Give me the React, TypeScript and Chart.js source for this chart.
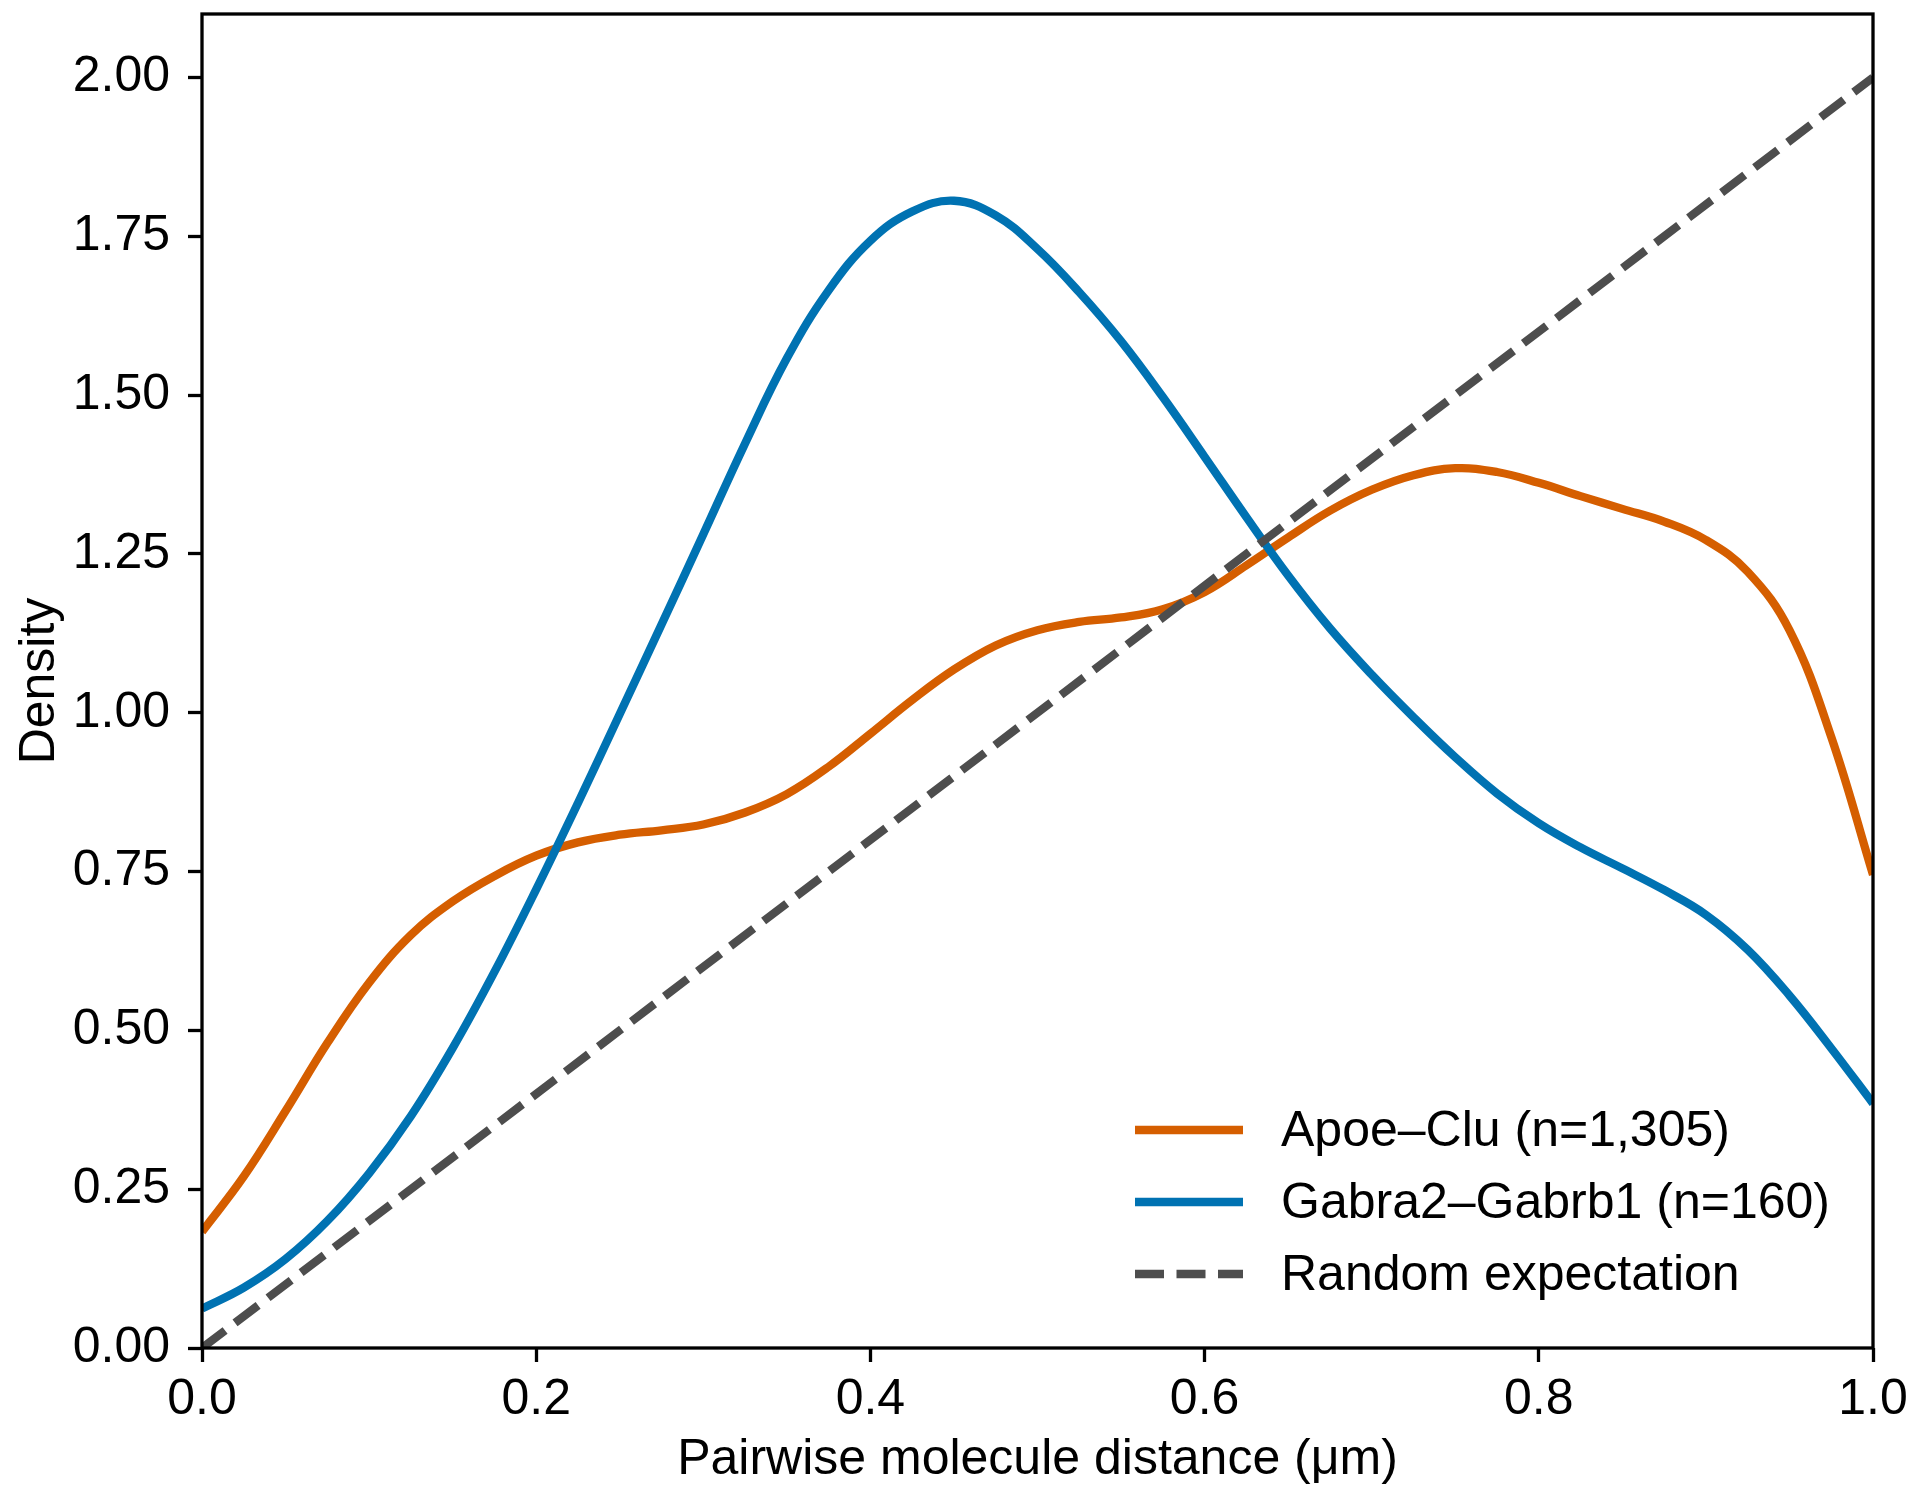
import React, { useEffect, useRef } from 'react';
import { Chart, registerables } from 'chart.js';

Chart.register(...registerables);

// distance grid (µm) and the two density curves
const distances = [
  0, 0.025, 0.05, 0.075, 0.1, 0.125, 0.15, 0.175, 0.2, 0.225, 0.25, 0.275, 0.3, 0.325, 0.35, 0.375, 0.4, 0.425, 0.45, 0.475,
  0.5, 0.525, 0.55, 0.575, 0.6, 0.625, 0.65, 0.675, 0.7, 0.725, 0.75, 0.775, 0.8, 0.825, 0.85, 0.875, 0.9, 0.925, 0.95, 0.975, 1.0,
];
const apoeClu = [
  0.183, 0.27, 0.373, 0.48, 0.575, 0.65, 0.703, 0.743, 0.775, 0.796, 0.808, 0.815, 0.824, 0.843, 0.872, 0.915, 0.967, 1.02, 1.068, 1.106,
  1.13, 1.143, 1.15, 1.163, 1.19, 1.232, 1.276, 1.318, 1.351, 1.374, 1.385, 1.379, 1.362, 1.341, 1.321, 1.301, 1.272, 1.222, 1.13, 0.962, 0.745,
];
const gabra2Gabrb1 = [
  0.062, 0.095, 0.14, 0.2, 0.275, 0.365, 0.472, 0.592, 0.722, 0.858, 0.998, 1.139, 1.281, 1.424, 1.558, 1.665, 1.743, 1.789, 1.806, 1.783,
  1.73, 1.662, 1.585, 1.497, 1.403, 1.308, 1.216, 1.133, 1.06, 0.993, 0.93, 0.873, 0.826, 0.788, 0.755, 0.721, 0.682, 0.627, 0.555, 0.472, 0.385,
];
const randomX = [0, 1];
const randomY = [0, 2];

const seriesLabels = ['Apoe\u2013Clu (n=1,305)', 'Gabra2\u2013Gabrb1 (n=160)', 'Random expectation'];
const xTicks = [0, 0.2, 0.4, 0.6, 0.8, 1.0];
const yTicks = [0, 0.25, 0.5, 0.75, 1.0, 1.25, 1.5, 1.75, 2.0];

const FONT = '"Liberation Sans", Arial, sans-serif';
const ORANGE = '#D55E00';
const BLUE = '#0072B2';
const GREY = '#4D4D4D';

const toPoints = (xs: number[], ys: number[]) => xs.map((x, i) => ({ x, y: ys[i] }));

// box around the plot area, like matplotlib spines
const framePlugin = {
  id: 'frame',
  afterDraw(chart: any) {
    const { ctx, chartArea } = chart;
    ctx.save();
    ctx.strokeStyle = '#000';
    ctx.lineWidth = 3.3;
    ctx.strokeRect(chartArea.left, chartArea.top, chartArea.right - chartArea.left, chartArea.bottom - chartArea.top);
    ctx.restore();
  },
};

// legend drawn inside the axes, lower right
const legendPlugin = {
  id: 'insideLegend',
  afterDatasetsDraw(chart: any) {
    const { ctx, chartArea } = chart;
    const x0 = chartArea.right - 738;
    const y0 = chartArea.bottom - 218;
    ctx.save();
    ctx.font = `50px ${FONT}`;
    ctx.textBaseline = 'middle';
    ctx.fillStyle = '#000';
    chart.data.datasets.forEach((ds: any, i: number) => {
      const y = y0 + i * 72;
      ctx.strokeStyle = ds.borderColor;
      ctx.lineWidth = ds.borderWidth;
      ctx.lineCap = 'butt';
      ctx.setLineDash(ds.borderDash || []);
      ctx.beginPath();
      ctx.moveTo(x0, y);
      ctx.lineTo(x0 + 108, y);
      ctx.stroke();
      ctx.setLineDash([]);
      ctx.fillText(ds.label, x0 + 146, y + 2);
    });
    ctx.restore();
  },
};

const App: React.FC = () => {
  const canvasRef = useRef<HTMLCanvasElement | null>(null);
  const chartInstance = useRef<Chart | null>(null);

  useEffect(() => {
    if (!canvasRef.current) return;
    if (chartInstance.current) chartInstance.current.destroy();

    chartInstance.current = new Chart(canvasRef.current, {
      type: 'line',
      data: {
        datasets: [
          {
            label: seriesLabels[0],
            data: toPoints(distances, apoeClu),
            borderColor: ORANGE,
            borderWidth: 8.3,
            pointRadius: 0,
            tension: 0.4,
            order: 3,
          },
          {
            label: seriesLabels[1],
            data: toPoints(distances, gabra2Gabrb1),
            borderColor: BLUE,
            borderWidth: 8.3,
            pointRadius: 0,
            tension: 0.4,
            order: 2,
          },
          {
            label: seriesLabels[2],
            data: toPoints(randomX, randomY),
            borderColor: GREY,
            borderWidth: 8.3,
            borderDash: [29, 12.5],
            pointRadius: 0,
            order: 1,
          },
        ],
      },
      options: {
        responsive: false,
        animation: false,
        devicePixelRatio: 1,
        layout: { padding: { top: 14, right: 47, left: 0, bottom: 0 } },
        plugins: {
          legend: { display: false },
          tooltip: { enabled: false },
        },
        scales: {
          x: {
            type: 'linear',
            min: 0,
            max: 1,
            afterFit: (scale: any) => {
              scale.height = 152;
              scale.paddingLeft = 0;
              scale.paddingRight = 0;
            },
            afterBuildTicks: (scale: any) => { scale.ticks = xTicks.map((v) => ({ value: v })); },
            grid: { drawOnChartArea: false, drawTicks: true, tickLength: 14, tickWidth: 3.3, tickColor: '#000' },
            border: { display: false },
            ticks: {
              color: '#000',
              font: { family: FONT, size: 50 },
              padding: 8,
              maxRotation: 0,
              callback: (v: any) => Number(v).toFixed(1),
            },
            title: {
              display: true,
              text: 'Pairwise molecule distance (\u03bcm)',
              color: '#000',
              font: { family: FONT, size: 50 },
              padding: { top: 0, bottom: 10 },
            },
          },
          y: {
            type: 'linear',
            min: 0,
            max: 2.1,
            afterFit: (scale: any) => {
              scale.width = 202;
              scale.paddingTop = 0;
              scale.paddingBottom = 0;
            },
            afterBuildTicks: (scale: any) => { scale.ticks = yTicks.map((v) => ({ value: v })); },
            grid: { drawOnChartArea: false, drawTicks: true, tickLength: 14, tickWidth: 3.3, tickColor: '#000' },
            border: { display: false },
            ticks: {
              color: '#000',
              font: { family: FONT, size: 50 },
              padding: 18,
              callback: (v: any) => Number(v).toFixed(2),
            },
            title: {
              display: true,
              text: 'Density',
              color: '#000',
              font: { family: FONT, size: 50 },
              padding: { top: 10, bottom: 0 },
            },
          },
        },
      },
      plugins: [framePlugin, legendPlugin],
    });

    return () => {
      chartInstance.current?.destroy();
      chartInstance.current = null;
    };
  }, []);

  return (
    <div style={{ position: 'absolute', left: 0, top: 0, width: 1920, height: 1500, background: '#fff' }}>
      <canvas ref={canvasRef} width={1920} height={1500} style={{ display: 'block' }}></canvas>
    </div>
  );
};

export default App;
